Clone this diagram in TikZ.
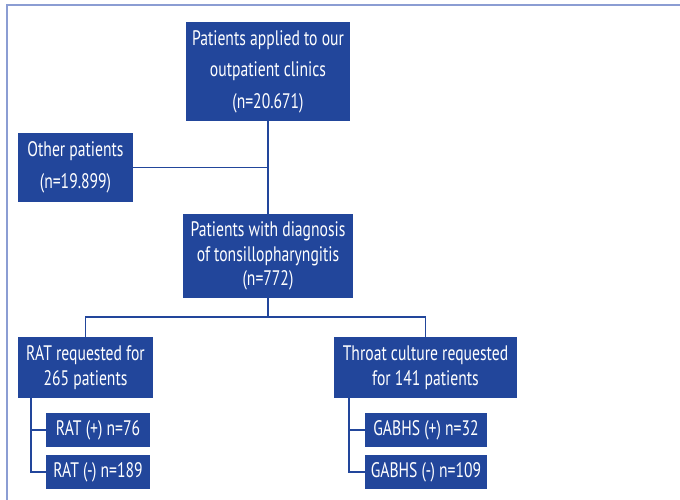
\documentclass[tikz,border=0pt]{standalone}
\usepackage{fontspec}
\setmainfont{PT Sans}[FakeStretch=0.745]
\usepackage{xcolor}
\definecolor{boxblue}{HTML}{22469B}
\definecolor{framegray}{HTML}{8B9DD3}
\tikzset{flowbox/.style={fill=boxblue,text=white,align=center,inner sep=0pt,
   font=\fontsize{21}{24.5}\selectfont},
 widebox/.style={flowbox,font=\fontsize{21}{31.5}\selectfont},
 link/.style={draw=boxblue,line width=1.3pt},
 }

\begin{document}
\begin{tikzpicture}[x=1pt,y=-1pt]
        \useasboundingbox (0,0) rectangle (680,500);
        \draw [framegray, line width=1.3pt] (7,500) -- (7,5) -- (680,5);
        \node [widebox, minimum width=164pt, minimum height=99pt] (applied) at (268,71.5)
            {Patients applied to our\\outpatient clinics\\(n=20.671)};
        \node [widebox, minimum width=115pt, minimum height=69pt] (other) at (75.5,167.5)
            {Other patients\\(n=19.899)};
        \node [flowbox, minimum width=170pt, minimum height=84pt] (diag) at (268,256)
            {Patients with diagnosis\\of tonsillopharyngitis\\(n=772)};
        \node [flowbox, minimum width=135pt, minimum height=61pt] (rat) at (85.5,367.5)
            {RAT requested for\\265 patients};
        \node [flowbox, minimum width=183pt, minimum height=61pt] (throat) at (425.5,367.5)
            {Throat culture requested\\for 141 patients};
        \node [flowbox, minimum width=104pt, minimum height=34pt] (ratpos) at (98,430) {RAT (+) n=76};
        \node [flowbox, minimum width=104pt, minimum height=34pt] (ratneg) at (98,472) {RAT (-) n=189};
        \node [flowbox, minimum width=122pt, minimum height=34pt] (gabpos) at (426,430) {GABHS (+) n=32};
        \node [flowbox, minimum width=122pt, minimum height=34pt] (gabneg) at (426,472) {GABHS (-) n=109};
        \coordinate (split) at (268,317);
        \coordinate (ratbus) at (31,398);
        \coordinate (throatbus) at (349,398);
        \draw [link] (applied) -- (diag);
        \draw [link] (other.east) -- (other.east -| applied.south);
        \draw [link] (diag) -- (split);
        \draw [link] (rat.north) |- (split) -| (throat.north);
        \draw [link] (ratbus) |- (ratneg.west);
        \draw [link] (ratpos.west) -- (ratpos.west -| ratbus);
        \draw [link] (throatbus) |- (gabneg.west);
        \draw [link] (gabpos.west) -- (gabpos.west -| throatbus);
    \end{tikzpicture}
\end{document}
